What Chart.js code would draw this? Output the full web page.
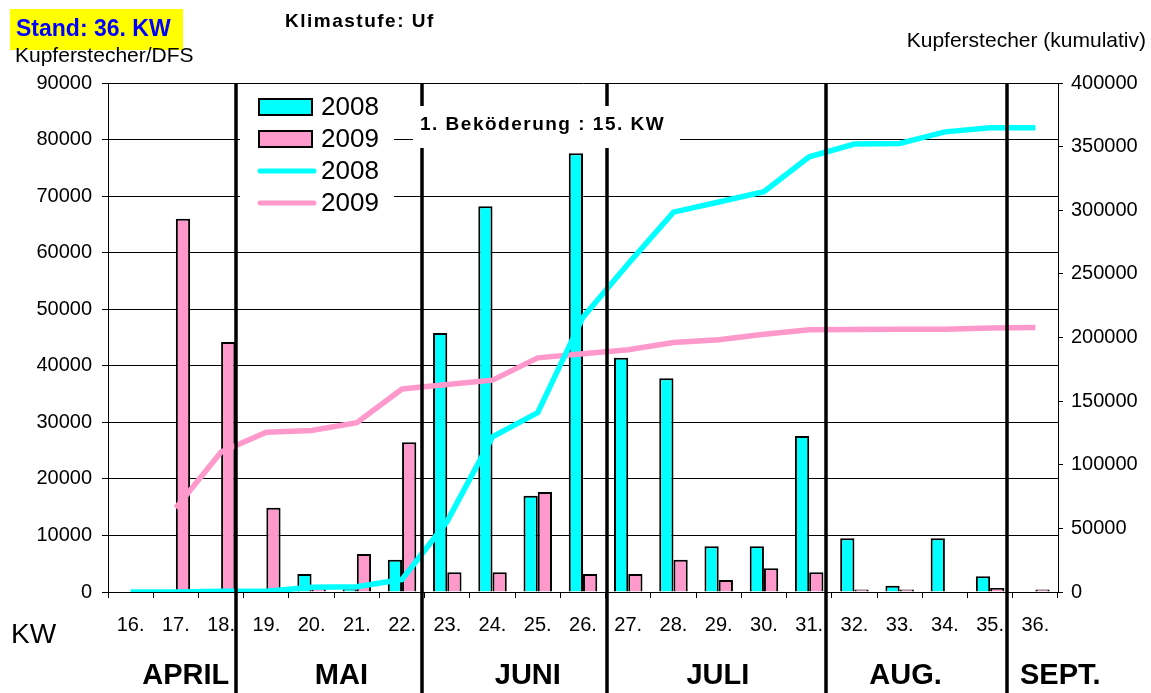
<!DOCTYPE html>
<html>
<head>
<meta charset="utf-8">
<script src="https://cdn.jsdelivr.net/npm/chart.js@4.4.1/dist/chart.umd.min.js"></script>
<style>
  html, body { margin: 0; padding: 0; background: #fff; }
  #wrap { position: relative; width: 1151px; height: 693px; }
</style>
</head>
<body>
<div id="wrap"><canvas id="chart"></canvas></div>
<script>
// Kalenderwochen
const weeks = ['16.', '17.', '18.', '19.', '20.', '21.', '22.', '23.', '24.', '25.', '26.',
  '27.', '28.', '29.', '30.', '31.', '32.', '33.', '34.', '35.', '36.'];

// Kupferstecher/DFS pro Woche
const bars2008 = [0, 0, 500, 0, 3200, 500, 5700, 45800, 68200, 17000, 77600,
  41400, 37800, 8100, 8100, 27600, 9500, 1100, 9500, 2800, 0];
const bars2009 = [0, 66000, 44200, 14900, 1000, 6700, 26500, 3500, 3500, 17700, 3200,
  3200, 5700, 2100, 4200, 3500, 450, 450, 0, 700, 450];

// Kupferstecher kumulativ
const cum2008 = [0, 0, 500, 500, 3700, 4200, 9900, 55700, 122000, 141000, 216000,
  258000, 298500, 306500, 314500, 342000, 352000, 352500, 361600, 364800, 364800];
const cum2009 = [null, 66000, 110000, 125500, 127000, 133000, 159500, 163000, 166500, 184000, 187200,
  190400, 196000, 198200, 202500, 206000, 206200, 206400, 206500, 207500, 207800];

const leftTicks = { min: 0, max: 90000, step: 10000 };
const rightTicks = { min: 0, max: 400000, step: 50000 };

// Monatstrennlinien und Monatsnamen (Position in Kategorie-Einheiten)
const monthBreaks = [2.34, 6.45, 10.54, 15.38, 19.38];
const months = ['APRIL', 'MAI', 'JUNI', 'JULI', 'AUG.', 'SEPT.'];
const monthPos = [1.22, 4.66, 8.78, 12.98, 17.13, 20.55];

const CYAN = '#00FFFF';
const PINK = '#FF99CC';
const FONT = "'Liberation Sans', Arial, sans-serif";

const overlay = {
  id: 'overlay',
  afterDatasetsDraw(chart) {
    const ctx = chart.ctx;
    const x = chart.scales.x;
    const area = chart.chartArea;
    ctx.save();

    // month separators
    ctx.strokeStyle = '#000';
    ctx.lineWidth = 3.5;
    monthBreaks.forEach(v => {
      const px = Math.round(x.getPixelForValue(v));
      ctx.beginPath();
      ctx.moveTo(px, area.top);
      ctx.lineTo(px, chart.height);
      ctx.stroke();
    });

    // annotation box
    ctx.fillStyle = '#fff';
    ctx.fillRect(413, 106, 267, 42);
    ctx.fillStyle = '#000';
    ctx.font = 'bold 19px ' + FONT;
    ctx.letterSpacing = '1.5px';
    ctx.textBaseline = 'middle';
    ctx.textAlign = 'left';
    ctx.fillText('1. Beköderung : 15. KW', 420, 125);
    ctx.letterSpacing = '0px';

    // legend
    ctx.fillStyle = '#fff';
    ctx.fillRect(240, 86, 154, 130);
    const items = chart.data.datasets;
    const rows = [107, 139, 171, 203];
    ctx.font = '26px ' + FONT;
    items.forEach((ds, i) => {
      const y = rows[i];
      if (ds.type === 'bar') {
        ctx.fillStyle = ds.backgroundColor;
        ctx.fillRect(259, y - 8, 53, 16);
        ctx.strokeStyle = '#000';
        ctx.lineWidth = 2;
        ctx.strokeRect(259, y - 8, 53, 16);
      } else {
        ctx.strokeStyle = ds.borderColor;
        ctx.lineWidth = 5;
        ctx.lineCap = 'round';
        ctx.beginPath();
        ctx.moveTo(260, y);
        ctx.lineTo(314, y);
        ctx.stroke();
      }
      ctx.fillStyle = '#000';
      ctx.fillText(ds.label, 321, y + 1);
    });

    // month names
    ctx.font = 'bold 29px ' + FONT;
    ctx.textAlign = 'center';
    ctx.fillStyle = '#000';
    months.forEach((m, i) => {
      ctx.fillText(m, x.getPixelForValue(monthPos[i]), 676);
    });

    // header texts
    ctx.fillStyle = '#FFFF00';
    ctx.fillRect(10, 9, 173, 41);
    ctx.fillStyle = '#0000FF';
    ctx.font = 'bold 23px ' + FONT;
    ctx.textAlign = 'left';
    ctx.fillText('Stand: 36. KW', 16, 30);

    ctx.fillStyle = '#000';
    ctx.font = 'bold 19px ' + FONT;
    ctx.letterSpacing = '1.5px';
    ctx.fillText('Klimastufe: Uf', 285, 22);
    ctx.letterSpacing = '0px';

    ctx.font = '21px ' + FONT;
    ctx.fillText('Kupferstecher/DFS', 15, 56);
    ctx.textAlign = 'right';
    ctx.fillText('Kupferstecher (kumulativ)', 1146, 41);

    ctx.textAlign = 'left';
    ctx.font = '28px ' + FONT;
    ctx.fillText('KW', 11, 635);

    ctx.restore();
  }
};

const plain = v => String(v);

new Chart(document.getElementById('chart'), {
  data: {
    labels: weeks,
    datasets: [
      { type: 'bar', label: '2008', data: bars2008, backgroundColor: CYAN, borderColor: '#000',
        borderWidth: 2, categoryPercentage: 0.63, barPercentage: 1, yAxisID: 'y', order: 2 },
      { type: 'bar', label: '2009', data: bars2009, backgroundColor: PINK, borderColor: '#000',
        borderWidth: 2, categoryPercentage: 0.63, barPercentage: 1, yAxisID: 'y', order: 2 },
      { type: 'line', label: '2008', data: cum2008, borderColor: CYAN, borderWidth: 5.5,
        pointRadius: 0, tension: 0, yAxisID: 'y2', order: 1 },
      { type: 'line', label: '2009', data: cum2009, borderColor: PINK, borderWidth: 5.5,
        pointRadius: 0, tension: 0, yAxisID: 'y2', order: 1 }
    ]
  },
  options: {
    responsive: true,
    maintainAspectRatio: false,
    animation: false,
    layout: { padding: { top: 83, left: 0, right: 0, bottom: 0 } },
    plugins: {
      legend: { display: false },
      tooltip: { enabled: false }
    },
    scales: {
      x: {
        grid: { drawOnChartArea: false, color: '#000', tickLength: 6, offset: true },
        border: { color: '#000', width: 1 },
        ticks: { color: '#000', font: { family: FONT, size: 20 }, padding: 15, maxRotation: 0, autoSkip: false },
        afterFit(scale) { scale.height = 101; }
      },
      y: {
        position: 'left',
        min: leftTicks.min, max: leftTicks.max,
        grid: { color: '#000', lineWidth: 1, tickLength: 6 },
        border: { color: '#000', width: 1 },
        ticks: { stepSize: leftTicks.step, color: '#000', font: { family: FONT, size: 20 }, padding: 10, callback: plain },
        afterFit(scale) { scale.width = 108; }
      },
      y2: {
        position: 'right',
        min: rightTicks.min, max: rightTicks.max,
        grid: { drawOnChartArea: false, color: '#000', tickLength: 5 },
        border: { color: '#000', width: 1 },
        ticks: { stepSize: rightTicks.step, color: '#000', font: { family: FONT, size: 20 }, padding: 8, callback: plain },
        afterFit(scale) { scale.width = 93; }
      }
    }
  },
  plugins: [overlay]
});
</script>
</body>
</html>
